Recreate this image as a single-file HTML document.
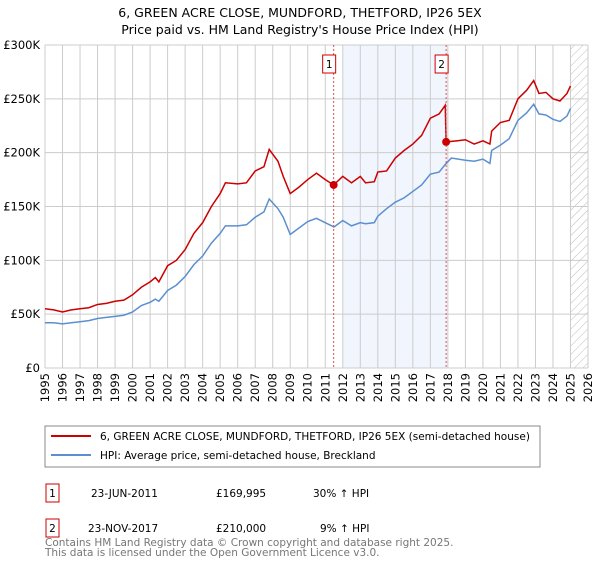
<!DOCTYPE html>
<html><head><meta charset="utf-8"><style>
body{margin:0;background:#fff;font-family:"DejaVu Sans","Liberation Sans",sans-serif;}
svg text{font-family:"DejaVu Sans","Liberation Sans",sans-serif;}
</style></head><body>
<svg id="chart" width="600" height="560" xmlns="http://www.w3.org/2000/svg">
<defs><pattern id="hatch" width="6" height="6" patternUnits="userSpaceOnUse" patternTransform="rotate(45)"><line x1="0" y1="0" x2="0" y2="6" stroke="#bbb" stroke-width="1"/></pattern></defs>
<text x="300" y="17" text-anchor="middle" font-size="12.5" fill="#000">6, GREEN ACRE CLOSE, MUNDFORD, THETFORD, IP26 5EX</text>
<text x="300" y="34" text-anchor="middle" font-size="12.5" fill="#000">Price paid vs. HM Land Registry's House Price Index (HPI)</text>
<g id="grid"></g><g id="series"></g><g id="axes"></g>
<rect x="45" y="426" width="495" height="41" fill="#fff" stroke="#888"/>
<line x1="51" y1="436" x2="91" y2="436" stroke="#cc0000" stroke-width="2"/>
<text x="100" y="440" font-size="10.5">6, GREEN ACRE CLOSE, MUNDFORD, THETFORD, IP26 5EX (semi-detached house)</text>
<line x1="51" y1="455" x2="91" y2="455" stroke="#5b8fd0" stroke-width="2"/>
<text x="100" y="459" font-size="10.5">HPI: Average price, semi-detached house, Breckland</text>
<g>
<rect x="46" y="484" width="13" height="18" fill="#fff" stroke="#cc0000"/><text x="52.5" y="497" font-size="10.5" text-anchor="middle">1</text>
<text x="91" y="497" font-size="10.5">23-JUN-2011</text><text x="216" y="497" font-size="10.5">£169,995</text><text x="313" y="497" font-size="10.5">30% ↑ HPI</text></g>
<g>
<rect x="46" y="519" width="13" height="18" fill="#fff" stroke="#cc0000"/><text x="52.5" y="532" font-size="10.5" text-anchor="middle">2</text>
<text x="88" y="532" font-size="10.5">23-NOV-2017</text><text x="216" y="532" font-size="10.5">£210,000</text><text x="320" y="532" font-size="10.5">9% ↑ HPI</text></g>
<text x="45" y="546" font-size="10.5" fill="#777">Contains HM Land Registry data © Crown copyright and database right 2025.</text>
<text x="45" y="556" font-size="10.5" fill="#777">This data is licensed under the Open Government Licence v3.0.</text>
</svg>
<script>
const years=[1995,1996,1997,1998,1999,2000,2001,2002,2003,2004,2005,2006,2007,2008,2009,2010,2011,2012,2013,2014,2015,2016,2017,2018,2019,2020,2021,2022,2023,2024,2025,2026];
const yTicks=[0,50,100,150,200,250,300];
const yTickLabels=["£0","£50K","£100K","£150K","£200K","£250K","£300K"];
const propT=[1995,1995.5,1996,1996.5,1997,1997.5,1998,1998.5,1999,1999.5,2000,2000.5,2001,2001.3,2001.5,2002,2002.5,2003,2003.5,2004,2004.5,2005,2005.3,2006,2006.5,2007,2007.5,2007.8,2008.3,2008.6,2009,2009.5,2010,2010.5,2011,2011.48,2012,2012.5,2013,2013.3,2013.8,2014,2014.5,2015,2015.5,2016,2016.5,2017,2017.5,2017.85,2017.9,2018.5,2019,2019.5,2020,2020.4,2020.5,2021,2021.5,2022,2022.5,2022.9,2023.2,2023.6,2024,2024.4,2024.8,2025.0];
const propV=[55,54,52,54,55,56,59,60,62,63,68,75,80,84,80,95,100,110,125,135,150,162,172,171,172,183,187,203,192,178,162,168,175,181,175,170,178,172,178,172,173,182,183,195,202,208,216,232,236,244,210,211,212,208,211,208,220,228,230,250,258,267,255,256,250,248,255,262];
const hpiT=[1995,1995.5,1996,1996.5,1997,1997.5,1998,1998.5,1999,1999.5,2000,2000.5,2001,2001.3,2001.5,2002,2002.5,2003,2003.5,2004,2004.5,2005,2005.3,2006,2006.5,2007,2007.5,2007.8,2008.3,2008.6,2009,2009.5,2010,2010.5,2011,2011.5,2012,2012.5,2013,2013.3,2013.8,2014,2014.5,2015,2015.5,2016,2016.5,2017,2017.5,2017.9,2018.2,2019,2019.5,2020,2020.4,2020.5,2021,2021.5,2022,2022.5,2022.9,2023.2,2023.6,2024,2024.4,2024.8,2025.0];
const hpiV=[42,42,41,42,43,44,46,47,48,49,52,58,61,64,62,72,77,85,96,104,116,125,132,132,133,140,145,157,148,140,124,130,136,139,135,131,137,132,135,134,135,141,148,154,158,164,170,180,182,190,195,193,192,194,190,202,207,213,230,237,245,236,235,231,229,234,241];
const saleT=[2011.48,2017.9];
const saleV=[169.995,210];
const saleLabels=["1","2"];
const X0=45,X1=588,Y0=368,Y1=45;
const xs=t=>X0+(t-1995)/(2026-1995)*(X1-X0);
const ys=v=>Y0-v/300*(Y0-Y1);
const NS="http://www.w3.org/2000/svg";
function mk(tag,attrs,parent){const e=document.createElementNS(NS,tag);for(const k in attrs)e.setAttribute(k,attrs[k]);parent.appendChild(e);return e;}
const grid=document.getElementById('grid'),series=document.getElementById('series'),axes=document.getElementById('axes');
const shade=mk('rect',{x:xs(2012),y:Y1,width:xs(2018)-xs(2012),height:Y0-Y1,fill:'#eef3fc',opacity:0.8},grid);


const hatch=mk('rect',{x:xs(2025),y:Y1,width:X1-xs(2025),height:Y0-Y1,fill:'url(#hatch)'},grid);


yTicks.forEach((v,i)=>{
 const l=mk('line',{x1:X0,x2:X1,y1:ys(v),y2:ys(v),stroke:'#ccc'},grid);
 
 
 const t=mk('text',{x:X0-5,y:ys(v)+4,'text-anchor':'end','font-size':'11.5'},axes);
 t.textContent=yTickLabels[i];
 
 
});
years.forEach(y=>{
 const l=mk('line',{x1:xs(y),x2:xs(y),y1:Y1,y2:Y0,stroke:'#ccc'},grid);
 
 
 const t=mk('text',{transform:`translate(${xs(y)+4},${Y0+5}) rotate(-90)`,'text-anchor':'end','font-size':'11.5'},axes);
 t.textContent=y;
 
 
});
function line(T,V,color,name){
 const p=mk('polyline',{points:T.map((t,i)=>xs(t)+','+ys(V[i])).join(' '),fill:'none',stroke:color,'stroke-width':1.5},series);
 
 
}
line(hpiT,hpiV,'#5b8fd0','hpi-line');
line(propT,propV,'#cc0000','property-line');
saleT.forEach((t,i)=>{
 const l=mk('line',{x1:xs(t),x2:xs(t),y1:Y1,y2:Y0,stroke:'#e05050','stroke-dasharray':'2,2'},series);
 
 
 const c=mk('circle',{cx:xs(t),cy:ys(saleV[i]),r:4,fill:'#cc0000'},series);
 
 
 const r=mk('rect',{x:xs(t)-11,y:55,width:13,height:18,fill:'#fff',stroke:'#cc0000'},series);
 
 
 const tx=mk('text',{x:xs(t)-4.5,y:68,'text-anchor':'middle','font-size':'10.5'},series);
 tx.textContent=saleLabels[i];
 
 
});
</script>
</body></html>
